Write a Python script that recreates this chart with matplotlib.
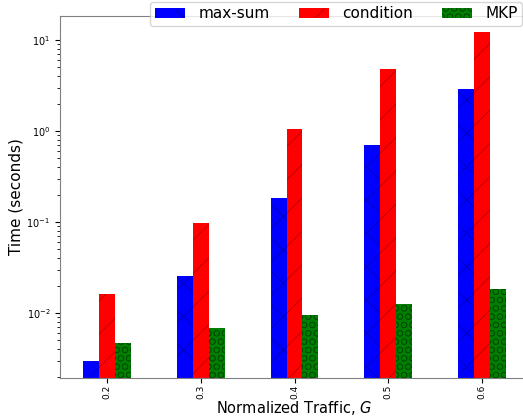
import numpy as np
import matplotlib
matplotlib.use('Agg')
import matplotlib.pyplot as plt

traffic = ['0.2', '0.3', '0.4', '0.5', '0.6']
max_sum = [0.00297, 0.0255, 0.184, 0.70, 2.89]
condition = [0.0162, 0.0975, 1.05, 4.8, 12.2]
mkp = [0.00468, 0.00684, 0.0095, 0.0126, 0.0183]

plt.rcParams['hatch.linewidth'] = 0.5

fig = plt.figure(figsize=(5.23, 4.16), dpi=100)
ax = fig.add_axes([60/523, 38/416, 469/523, 362/416])

x = np.arange(len(traffic))
w = 0.17
edge = (0, 0, 0, 0.35)
ax.bar(x - w, max_sum, w, color='blue', hatch='x', edgecolor=edge, linewidth=0, label='max-sum')
ax.bar(x, condition, w, color='red', hatch='/', edgecolor=edge, linewidth=0, label='condition')
ax.bar(x + w, mkp, w, color='green', hatch='OO', edgecolor=edge, linewidth=0, label='MKP')

ax.set_yscale('log')
ax.set_ylim(0.00193, 18.4)
ax.set_xlim(-0.5, 4.5)
ax.set_xticks(x)
ax.set_xticklabels(traffic, rotation=90, fontsize=6.5)
ax.tick_params(axis='y', labelsize=7)
ax.tick_params(axis='x', pad=1.5)

for s in ax.spines.values():
    s.set_color('gray')

ax.set_xlabel('Normalized Traffic, $G$', fontsize=10.5, labelpad=-0.3)
ax.set_ylabel('Time (seconds)', fontsize=11, labelpad=2)

ax.legend(ncol=3, loc='upper right', bbox_to_anchor=(0.986, 1.04), fontsize=11,
          handlelength=2.0, handleheight=0.6, handletextpad=0.85, columnspacing=1.9,
          borderaxespad=0, borderpad=0.3)

fig.savefig('out.png', dpi=100)
